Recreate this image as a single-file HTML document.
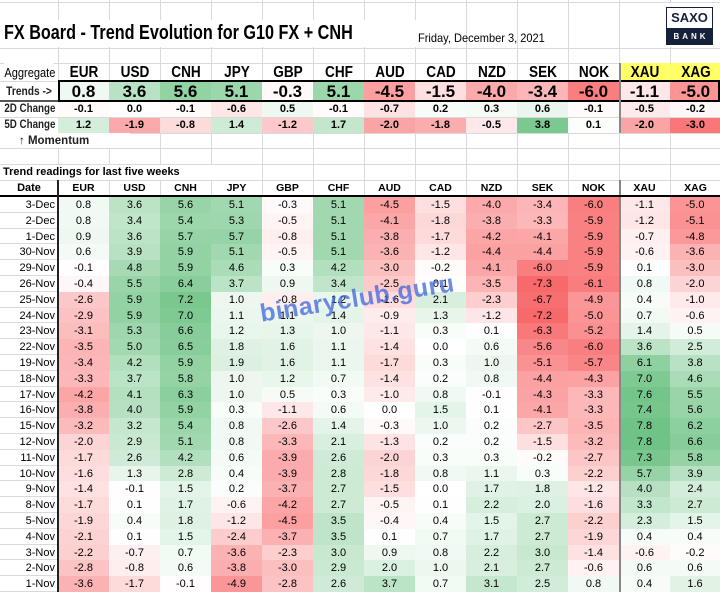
<!DOCTYPE html>
<html><head><meta charset="utf-8"><style>
body{margin:0;background:#fff;}
#c{position:relative;width:720px;height:592px;overflow:hidden;font-family:"Liberation Sans",sans-serif;color:#000;background:#fff;}
.a{position:absolute;box-sizing:border-box;white-space:nowrap;}
</style></head><body><div id="c"></div>
<script>
const c=document.getElementById('c');
function el(x,y,w,h,style,html){const d=document.createElement('div');d.className='a';d.style.cssText=`left:${x}px;top:${y}px;width:${w}px;height:${h}px;`+(style||'');if(html!==undefined)d.innerHTML=html;c.appendChild(d);return d;}
const cols=[];for(let i=0;i<13;i++){cols.push(58+51*i);} cols.push(720);
const cur=['EUR','USD','CNH','JPY','GBP','CHF','AUD','CAD','NZD','SEK','NOK','XAU','XAG'];
function col(v,neg,pos){if(v<0){let f=Math.min(1,-v/neg);return `rgb(${Math.round(255-7*f)},${Math.round(255-150*f)},${Math.round(255-148*f)})`;}else{let f=Math.min(1,v/pos);return `rgb(${Math.round(255-156*f)},${Math.round(255-65*f)},${Math.round(255-132*f)})`;}}
const sq='transform:scaleX(0.85);transform-origin:center;';
const hl=[2,48,63,81,101,117,133,148,164,180];
hl.forEach(y=>el(0,y,720,1,'background:#dadada'));
for(let i=0;i<14;i++){el(cols[i],0,1,197,'background:#dadada');}
el(0,20,420,27,'background:#fff');
el(4,20,430,26,'font:bold 20px "Liberation Sans",sans-serif;line-height:26px;transform:scaleX(0.81);transform-origin:left center','FX Board - Trend Evolution for G10 FX + CNH');
el(418,30,200,16,'font:12px "Liberation Sans",sans-serif;line-height:16px;transform:scaleX(0.92);transform-origin:left center','Friday, December 3, 2021');
el(664,3,56,44,'background:#fff');
el(666,7,47,38,'border:1.5px solid #15213a;background:#fff');
el(666,7,47,21,'font:bold 13px "Liberation Sans",sans-serif;color:#15213a;text-align:center;line-height:21px','SAXO');
el(666,28,47,17,'background:#15213a;color:#fff;font:bold 8px "Liberation Sans",sans-serif;letter-spacing:3px;text-align:center;line-height:17px;padding-left:3px','BANK');
el(619,63,101,18,'background:#ffff66');
el(0,63,58,18,'background:#fff;font:13px "Liberation Sans",sans-serif;line-height:20px;text-align:center;'+sq,'Aggregate');
cur.forEach((n,i)=>el(cols[i]+1,63,50,18,'font:bold 16px "Liberation Sans",sans-serif;line-height:20px;text-align:center;'+sq,n));
const trend=[0.8,3.6,5.6,5.1,-0.3,5.1,-4.5,-1.5,-4.0,-3.4,-6.0,-1.1,-5.0];
const d2=[-0.1,0.0,-0.1,-0.6,0.5,-0.1,-0.7,0.2,0.3,0.6,-0.1,-0.5,-0.2];
const d5=[1.2,-1.9,-0.8,1.4,-1.2,1.7,-2.0,-1.8,-0.5,3.8,0.1,-2.0,-3.0];
el(0,81,58,20,'font:bold 12px "Liberation Sans",sans-serif;line-height:20px;text-align:center;color:#222;'+sq,'Trends -&gt;');
trend.forEach((v,i)=>el(cols[i],82,51,19,'background:'+col(v,7,8)+';font:bold 17px "Liberation Sans",sans-serif;line-height:20px;text-align:center',v.toFixed(1)));
el(58,80,662,22,'border:2px solid #000');
el(0,100,58,2,'background:#555');
el(0,101,58,16,'font:bold 11.5px "Liberation Sans",sans-serif;line-height:16px;text-align:center;color:#222;'+sq,'2D Change');
d2.forEach((v,i)=>el(cols[i],102,51,15,'background:'+col(v,3.5,4.5)+';font:bold 11px "Liberation Sans",sans-serif;line-height:15px;text-align:center',v.toFixed(1)));
el(0,117,58,16,'font:bold 11.5px "Liberation Sans",sans-serif;line-height:16px;text-align:center;color:#222;'+sq,'5D Change');
d5.forEach((v,i)=>el(cols[i],118,51,15,'background:'+col(v,3.3,4.5)+';font:bold 11px "Liberation Sans",sans-serif;line-height:15px;text-align:center',v.toFixed(1)));
el(0,133,130,15,'background:#fff;font:bold 11.5px "Liberation Sans",sans-serif;line-height:16px;padding-left:19px;color:#222','&#8593; Momentum');
el(0,165,240,15,'background:#fff;font:bold 11px "Liberation Sans",sans-serif;line-height:15px;padding-left:3px','Trend readings for last five weeks');
el(0,181,58,15,'font:bold 11px "Liberation Sans",sans-serif;line-height:15px;text-align:center','Date');
cur.forEach((n,i)=>el(cols[i],181,51,15,'font:bold 10.5px "Liberation Sans",sans-serif;line-height:15px;text-align:center',n));
el(619,63,2,54,'background:#888');
el(619,101,2,32,'background:#888');
const data=[
['3-Dec',0.8,3.6,5.6,5.1,-0.3,5.1,-4.5,-1.5,-4.0,-3.4,-6.0,-1.1,-5.0],
['2-Dec',0.8,3.4,5.4,5.3,-0.5,5.1,-4.1,-1.8,-3.8,-3.3,-5.9,-1.2,-5.1],
['1-Dec',0.9,3.6,5.7,5.7,-0.8,5.1,-3.8,-1.7,-4.2,-4.1,-5.9,-0.7,-4.8],
['30-Nov',0.6,3.9,5.9,5.1,-0.5,5.1,-3.6,-1.2,-4.4,-4.4,-5.9,-0.6,-3.6],
['29-Nov',-0.1,4.8,5.9,4.6,0.3,4.2,-3.0,-0.2,-4.1,-6.0,-5.9,0.1,-3.0],
['26-Nov',-0.4,5.5,6.4,3.7,0.9,3.4,-2.5,0.1,-3.5,-7.3,-6.1,0.8,-2.0],
['25-Nov',-2.6,5.9,7.2,1.0,-0.8,1.2,-1.6,2.1,-2.3,-6.7,-4.9,0.4,-1.0],
['24-Nov',-2.9,5.9,7.0,1.1,1.1,1.4,-0.9,1.3,-1.2,-7.2,-5.0,0.7,-0.6],
['23-Nov',-3.1,5.3,6.6,1.2,1.3,1.0,-1.1,0.3,0.1,-6.3,-5.2,1.4,0.5],
['22-Nov',-3.5,5.0,6.5,1.8,1.6,1.1,-1.4,0.0,0.6,-5.6,-6.0,3.6,2.5],
['19-Nov',-3.4,4.2,5.9,1.9,1.6,1.1,-1.7,0.3,1.0,-5.1,-5.7,6.1,3.8],
['18-Nov',-3.3,3.7,5.8,1.0,1.2,0.7,-1.4,0.2,0.8,-4.4,-4.3,7.0,4.6],
['17-Nov',-4.2,4.1,6.3,1.0,0.5,0.3,-1.0,0.8,-0.1,-4.3,-3.3,7.6,5.5],
['16-Nov',-3.8,4.0,5.9,0.3,-1.1,0.6,0.0,1.5,0.1,-4.1,-3.3,7.4,5.6],
['15-Nov',-3.2,3.2,5.4,0.8,-2.6,1.4,-0.3,1.0,0.2,-2.7,-3.5,7.8,6.2],
['12-Nov',-2.0,2.9,5.1,0.8,-3.3,2.1,-1.3,0.2,0.2,-1.5,-3.2,7.8,6.6],
['11-Nov',-1.7,2.6,4.2,0.6,-3.9,2.6,-2.0,0.3,0.3,-0.2,-2.7,7.3,5.8],
['10-Nov',-1.6,1.3,2.8,0.4,-3.9,2.8,-1.8,0.8,1.1,0.3,-2.2,5.7,3.9],
['9-Nov',-1.4,-0.1,1.5,0.2,-3.7,2.7,-1.5,0.0,1.7,1.8,-1.2,4.0,2.4],
['8-Nov',-1.7,0.1,1.7,-0.6,-4.2,2.7,-0.5,0.1,2.2,2.0,-1.6,3.3,2.7],
['5-Nov',-1.9,0.4,1.8,-1.2,-4.5,3.5,-0.4,0.4,1.5,2.7,-2.2,2.3,1.5],
['4-Nov',-2.1,0.1,1.5,-2.4,-3.7,3.5,0.1,0.7,1.7,2.7,-1.9,0.4,0.4],
['3-Nov',-2.2,-0.7,0.7,-3.6,-2.3,3.0,0.9,0.8,2.2,3.0,-1.4,-0.6,-0.2],
['2-Nov',-2.8,-0.8,0.6,-3.8,-3.0,2.9,2.0,1.0,2.1,2.7,-0.6,0.6,0.6],
['1-Nov',-3.6,-1.7,-0.1,-4.9,-2.8,2.6,3.7,0.7,3.1,2.5,0.8,0.4,1.6]];
const h=15.8;
data.forEach((r,j)=>{const y=197+j*h;
 el(0,y,58,h,'border-bottom:1px solid #dadada;font:11px "Liberation Sans",sans-serif;line-height:16px;text-align:right;padding-right:3px',r[0]);
 for(let i=0;i<13;i++){el(cols[i],y,(cols[i+1]-cols[i]),h+0.5,'background:'+col(r[i+1],7.0,8.5)+';font:11px "Liberation Sans",sans-serif;line-height:16px;text-align:center',r[i+1].toFixed(1));}
});
el(619,180,2,412,'background:#888');
el(0,195,720,2,'background:#000');
el(57,180,2,412,'background:#222');
el(258,300,300,40,'font:bold 25px "Liberation Sans",sans-serif;color:rgba(60,100,220,0.75);transform:rotate(-9deg);transform-origin:left top;letter-spacing:0.5px;','binaryclub.guru');
</script></body></html>
